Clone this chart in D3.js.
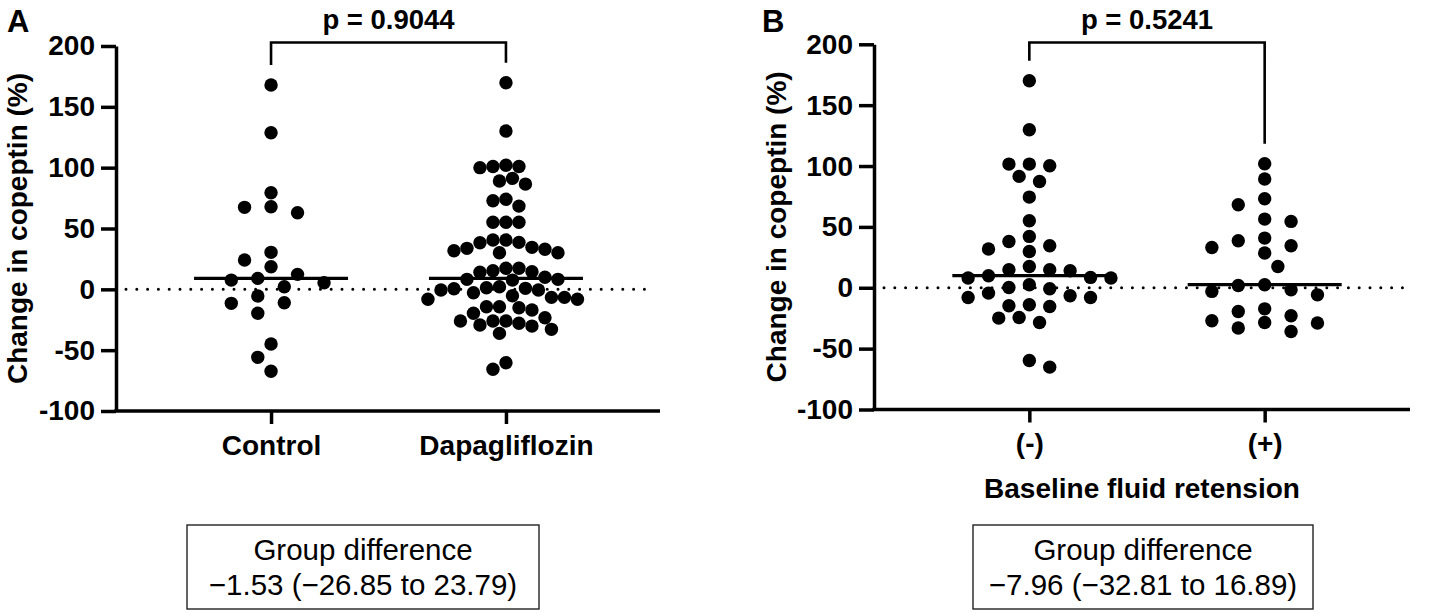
<!DOCTYPE html>
<html>
<head>
<meta charset="utf-8">
<script src="https://cdn.jsdelivr.net/npm/d3@7"></script>
<style>
  body { margin: 0; background: #fff; }
  text { font-family: Arial, "Liberation Sans", Helvetica, sans-serif; fill: #000; }
</style>
</head>
<body>
<svg id="chart" width="1430" height="616"></svg>
<script>
// values (change in copeptin, %)
var controlValues = [167.9, 128.7, 79.4, 67.4, 62.9, 67.9, 30.4, 18.6, 7.6, 24.1, 12.3,
  2.1, 9.0, 5.4, -5.5, -11.5, -11.0, -19.7, -44.9, -55.9, -67.3];

var dapaValues = [169.8, 130.1, 102, 101, 101, 100, 91.2, 89.0, 86.5, 74.0, 72.8, 68.4,
  55.1, 55.1, 55.1, 40.5, 40.5, 38.6, 38.3, 34.5, 33.7, 32.9, 31.7, 30.1, 30.1,
  17.3, 17.3, 15.3, 14.5, 14.0, 9.9, 8.2, 8.2, 7.6, 2.1, 1.3, 0.8, 0.5, -0.6, -0.6,
  -2.8, -5.3, -6.6, -6.6, -8.2, -8.2, -14.3, -14.3, -15.1, -17.0, -19.7, -23.3,
  -26.0, -26.0, -26.0, -27.9, -29.3, -30.2, -32.9, -36.2, -60.3, -65.7];

var fluidNegValues = [170.1, 129.8, 101.6, 101.6, 100.2, 91.5, 87.3, 74.5, 55.1, 42.2,
  38.0, 34.5, 31.8, 29.8, 17.5, 14.8, 14.8, 14.0, 9.9, 8.5, 8.0, 8.0, 2.5, 0.2, -0.8,
  -4.4, -6.6, -8.0, -8.0, -14.0, -14.8, -15.4, -24.4, -24.9, -28.5, -59.7, -65.2];

var fluidPosValues = [101.9, 89.3, 73.1, 68.2, 56.4, 54.5, 40.8, 38.6, 34.5, 33.1, 28.5,
  17.5, 2.5, 1.9, -1.6, -3.0, -5.8, -17.3, -19.5, -23.0, -27.1, -28.5, -29.0, -33.1, -35.9];

var groupsA = ["Control", "Dapagliflozin"];
var groupsB = ["(-)", "(+)"];
var yTicks = [-100, -50, 0, 50, 100, 150, 200];
var pLabels = ["p = 0.9044", "p = 0.5241"];
var diffA = ["Group difference", "\u22121.53 (\u221226.85 to 23.79)"];
var diffB = ["Group difference", "\u22127.96 (\u221232.81 to 16.89)"];

var svg = d3.select("#chart");
var R = 6.7;
var FONT = "Arial, 'Liberation Sans', sans-serif";

// greedy beeswarm on half-step slots
var swarm = function(values, cx, y, step) {
  var placed = [];
  var flip = false;
  values.slice().sort(function(a, b) { return b - a; }).forEach(function(v) {
    var py = y(v), off = null;
    for (var n = 0; n < 60 && off === null; n++) {
      var cands = n === 0 ? [0] : (flip ? [n, -n] : [-n, n]);
      for (var c = 0; c < cands.length; c++) {
        var px = cands[c] * step / 2;
        var ok = placed.every(function(p) {
          var dx = (p.dx - px) / step, dy = (p.y - py) / (2 * R);
          return dx * dx + dy * dy >= 0.999;
        });
        if (ok) { off = px; break; }
      }
    }
    if (off !== 0) flip = !flip;
    placed.push({dx: off, y: py});
  });
  return placed.map(function(p) { return {x: cx + p.dx, y: p.y}; });
};

var drawPanel = function(cfg) {
  var g = svg.append("g");
  var y = d3.scaleLinear().domain([-100, 200]).range([cfg.yBottom, cfg.yTop]);
  var x = d3.scalePoint().domain(cfg.groups).range([cfg.left, cfg.scaleEnd]).padding(0.66);

  // zero line
  g.append("line")
    .attr("x1", cfg.left + 10).attr("x2", cfg.axisEnd - 6)
    .attr("y1", y(0)).attr("y2", y(0))
    .attr("stroke", "#000").attr("stroke-width", 3)
    .attr("stroke-linecap", "round").attr("stroke-dasharray", "0 10.8");

  // y axis
  var ya = g.append("g").attr("transform", "translate(" + cfg.left + ",0)")
    .call(d3.axisLeft(y).tickValues(yTicks).tickFormat(function(d) { return String(d); })
      .tickSize(15).tickSizeOuter(0).tickPadding(6));
  ya.selectAll("path, line").attr("stroke", "#000").attr("stroke-width", 3.5);
  ya.selectAll("text").attr("font-size", 28).attr("font-weight", "bold")
    .attr("font-family", FONT).attr("fill", "#000");

  // x axis
  var xa = g.append("g").attr("transform", "translate(0," + cfg.yBottom + ")")
    .call(d3.axisBottom(x).tickSize(13).tickSizeOuter(0).tickPadding(11));
  xa.select(".domain").remove();
  xa.append("line").attr("x1", cfg.left - 1.75).attr("x2", cfg.axisEnd)
    .attr("stroke", "#000").attr("stroke-width", 3.5);
  xa.selectAll(".tick line").attr("stroke", "#000").attr("stroke-width", 3.5);
  xa.selectAll("text").attr("font-size", 28).attr("font-weight", "bold")
    .attr("font-family", FONT).attr("fill", "#000");

  // points and medians
  cfg.groups.forEach(function(name, i) {
    var pts = swarm(cfg.values[i], x(name), y, cfg.steps[i]);
    g.selectAll(null).data(pts).enter().append("circle")
      .attr("cx", function(d) { return d.x; })
      .attr("cy", function(d) { return d.y; })
      .attr("r", R).attr("fill", "#000");
    var med = d3.median(cfg.values[i]);
    g.append("line")
      .attr("x1", x(name) - 77).attr("x2", x(name) + 77)
      .attr("y1", y(med)).attr("y2", y(med))
      .attr("stroke", "#000").attr("stroke-width", 3.2);
  });

  // significance bracket
  var x0 = x(cfg.groups[0]), x1 = x(cfg.groups[1]);
  var by = 42.5;
  var e0 = y(d3.max(cfg.values[0])) - 20, e1 = y(d3.max(cfg.values[1])) - 20;
  g.append("path")
    .attr("d", "M" + x0 + "," + e0 + "V" + by + "H" + x1 + "V" + e1)
    .attr("fill", "none").attr("stroke", "#000").attr("stroke-width", 2.6);
  g.append("text").attr("x", (x0 + x1) / 2).attr("y", 29)
    .attr("text-anchor", "middle").attr("font-size", 27.5).attr("font-weight", "bold")
    .text(cfg.p);

  // panel letter
  g.append("text").attr("x", cfg.letterX).attr("y", 32)
    .attr("font-size", 31).attr("font-weight", "bold").text(cfg.letter);

  // y title
  g.append("text")
    .attr("transform", "translate(" + cfg.titleX + "," + ((cfg.yTop + cfg.yBottom) / 2) + ") rotate(-90)")
    .attr("text-anchor", "middle").attr("font-size", 28).attr("font-weight", "bold")
    .text("Change in copeptin (%)");

  if (cfg.xTitle) {
    g.append("text").attr("x", (cfg.left + cfg.axisEnd) / 2).attr("y", 498)
      .attr("text-anchor", "middle").attr("font-size", 28).attr("font-weight", "bold")
      .text(cfg.xTitle);
  }

  // group difference box
  g.append("rect").attr("x", cfg.boxX).attr("y", 525)
    .attr("width", cfg.boxW).attr("height", 84)
    .attr("fill", "none").attr("stroke", "#222").attr("stroke-width", 1.4);
  g.selectAll(null).data(cfg.diff).enter().append("text")
    .attr("x", cfg.boxX + cfg.boxW / 2)
    .attr("y", function(d, i) { return 560 + i * 35; })
    .attr("text-anchor", "middle").attr("font-size", 29.5)
    .text(function(d) { return d; });
};

drawPanel({
  letter: "A", letterX: 7, titleX: 27,
  groups: groupsA, values: [controlValues, dapaValues], steps: [26.5, 13],
  left: 116, scaleEnd: 661, axisEnd: 660, yTop: 46, yBottom: 411,
  p: pLabels[0], diff: diffA, boxX: 187, boxW: 352, xTitle: null
});

drawPanel({
  letter: "B", letterX: 762, titleX: 786,
  groups: groupsB, values: [fluidNegValues, fluidPosValues], steps: [20.4, 26.4],
  left: 874, scaleEnd: 1420, axisEnd: 1410, yTop: 44.3, yBottom: 409.5,
  p: pLabels[1], diff: diffB, boxX: 973, boxW: 340, xTitle: "Baseline fluid retension"
});
</script>
</body>
</html>
